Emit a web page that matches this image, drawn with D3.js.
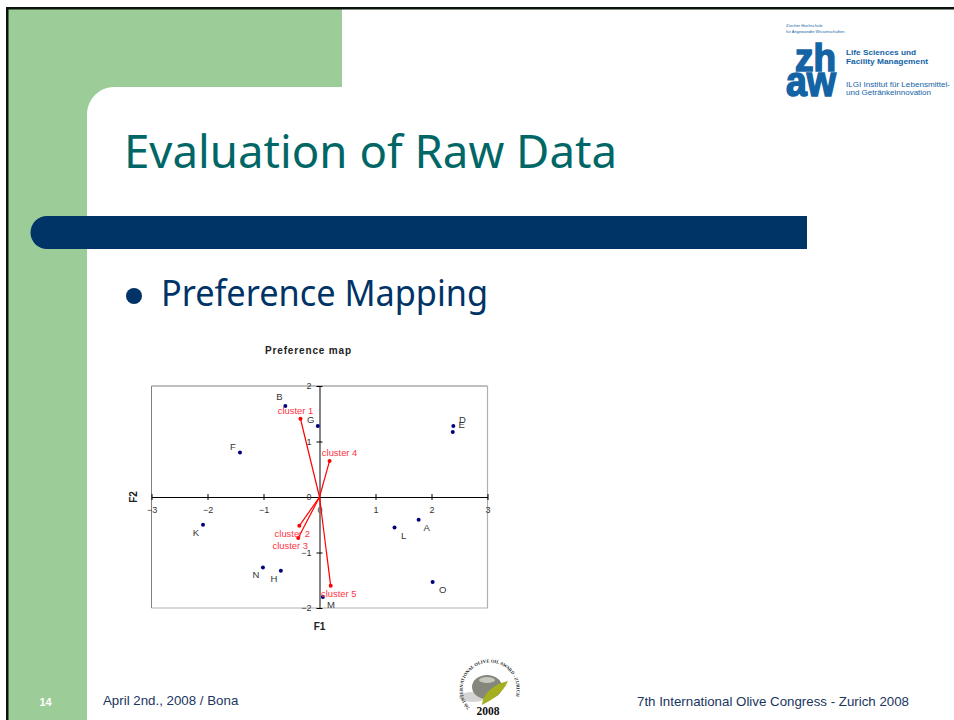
<!DOCTYPE html>
<html>
<head>
<meta charset="utf-8">
<script src="https://cdn.jsdelivr.net/npm/d3@7"></script>
<style>
html, body { margin: 0; padding: 0; background: #fff; overflow: hidden; }
svg { display: block; }
text { font-family: "Liberation Sans", Arial, sans-serif; }
text.slide { font-family: "Noto Sans", Tahoma, sans-serif; }
text.serif { font-family: "Liberation Serif", serif; }
</style>
</head>
<body>
<div id="graf"></div>
<script>
// Preference map data
const productNames = ['A', 'B', 'D', 'E', 'F', 'G', 'H', 'K', 'L', 'M', 'N', 'O']
const productF1 = [1.77, -0.61, 2.39, 2.38, -1.42, -0.03, -0.69, -2.08, 1.34, 0.06, -1.01, 2.02]
const productF2 = [-0.41, 1.64, 1.28, 1.17, 0.80, 1.28, -1.33, -0.50, -0.55, -1.80, -1.27, -1.53]

const clusterNames = ['cluster 1', 'cluster 2', 'cluster 3', 'cluster 4', 'cluster 5']
const clusterF1 = [-0.34, -0.36, -0.38, 0.18, 0.20]
const clusterF2 = [1.41, -0.52, -0.74, 0.65, -1.60]

const xTicks = [-3, -2, -1, 0, 1, 2, 3]
const yTicks = [-2, -1, 0, 1, 2]

const ancho_total = 954
const alto_total = 720
const verde = '#9ccc97'
const azul = '#003366'

const svg = d3.select('#graf').append('svg')
  .attr('width', ancho_total)
  .attr('height', alto_total)

// Fondo de la diapositiva
const bg = svg.append('g').attr('class', 'fondo')
bg.append('rect').attr('x', 8).attr('y', 9).attr('width', 334).attr('height', 78).attr('fill', verde)
bg.append('rect').attr('x', 8).attr('y', 9).attr('width', 79).attr('height', 711).attr('fill', verde)
bg.append('rect').attr('x', 87).attr('y', 87).attr('width', 27).attr('height', 27).attr('fill', verde)
bg.append('path').attr('d', 'M87,160 V114 A27,27 0 0 1 114,87 H160 V160 Z').attr('fill', '#fff')
bg.append('rect').attr('x', 6).attr('y', 7).attr('width', 948).attr('height', 2.5).attr('fill', '#0a140a')
bg.append('rect').attr('x', 6).attr('y', 7).attr('width', 2.5).attr('height', 713).attr('fill', '#0a140a')
bg.append('path')
  .attr('d', 'M807,216 H47 A16.5,16.5 0 0 0 47,249 H807 Z')
  .attr('fill', azul)

svg.append('text').attr('class', 'slide')
  .attr('x', 124).attr('y', 168)
  .attr('font-size', 46).attr('fill', '#006666')
  .attr('textLength', 493).attr('lengthAdjust', 'spacingAndGlyphs')
  .text('Evaluation of Raw Data')
svg.append('circle').attr('cx', 134).attr('cy', 296).attr('r', 8).attr('fill', azul)
svg.append('text').attr('class', 'slide')
  .attr('x', 161).attr('y', 306)
  .attr('font-size', 37).attr('fill', azul)
  .attr('textLength', 327).attr('lengthAdjust', 'spacingAndGlyphs')
  .text('Preference Mapping')

// Pie de pagina
const pie = svg.append('g').attr('font-size', 13.3).attr('fill', '#1a3560')
pie.append('text').attr('x', 45.5).attr('y', 706).attr('text-anchor', 'middle')
  .attr('font-size', 11).attr('font-weight', 'bold').attr('fill', '#fff').text('14')
pie.append('text').attr('x', 103).attr('y', 705).text('April 2nd., 2008 / Bona')
pie.append('text').attr('x', 909).attr('y', 706).attr('text-anchor', 'end').text('7th International Olive Congress - Zurich 2008')

// Logo zhaw
const logo = svg.append('g').attr('fill', '#1464a5')
logo.append('text').attr('x', 786).attr('y', 27).attr('font-size', 4.1).text('Zürcher Hochschule')
logo.append('text').attr('x', 786).attr('y', 32.5).attr('font-size', 4.1).text('für Angewandte Wissenschaften')
logo.append('text').attr('x', 795).attr('y', 71).attr('font-size', 39).attr('font-weight', 'bold')
  .attr('stroke', '#1464a5').attr('stroke-width', 1.6)
  .attr('textLength', 41).attr('lengthAdjust', 'spacingAndGlyphs').text('zh')
logo.append('text').attr('x', 786).attr('y', 96).attr('font-size', 42).attr('font-weight', 'bold')
  .attr('stroke', '#1464a5').attr('stroke-width', 1.6)
  .attr('textLength', 50).attr('lengthAdjust', 'spacingAndGlyphs').text('aw')
logo.append('text').attr('x', 846).attr('y', 55).attr('font-size', 8).attr('font-weight', 'bold')
  .attr('textLength', 70).attr('lengthAdjust', 'spacingAndGlyphs').text('Life Sciences und')
logo.append('text').attr('x', 846).attr('y', 63.5).attr('font-size', 8).attr('font-weight', 'bold')
  .attr('textLength', 82).attr('lengthAdjust', 'spacingAndGlyphs').text('Facility Management')
logo.append('text').attr('x', 846).attr('y', 87).attr('font-size', 8)
  .attr('textLength', 104).attr('lengthAdjust', 'spacingAndGlyphs').text('ILGI Institut für Lebensmittel-')
logo.append('text').attr('x', 846).attr('y', 95).attr('font-size', 8)
  .attr('textLength', 85).attr('lengthAdjust', 'spacingAndGlyphs').text('und Getränkeinnovation')

// Sello del premio
const sello = svg.append('g').attr('transform', 'translate(487, 687)')
sello.append('ellipse').attr('cx', -14).attr('cy', 10).attr('rx', 14).attr('ry', 5).attr('fill', '#d4d4d4')
sello.append('ellipse').attr('cx', 0).attr('cy', 0).attr('rx', 15).attr('ry', 12).attr('fill', '#85867c')
sello.append('ellipse').attr('cx', 0).attr('cy', -7).attr('rx', 8).attr('ry', 3).attr('fill', '#c6c7bd')
sello.append('path').attr('d', 'M-5,18 C-4,6 7,-3 21,-6 C16,6 6,12 -5,18 Z').attr('fill', '#a5b020')
sello.append('path').attr('id', 'arco').attr('fill', 'none').attr('d', 'M-17,21 A27,27 0 1 1 24,19')
sello.append('text').attr('class', 'serif').attr('font-size', 4.6).attr('font-weight', 'bold').attr('fill', '#222')
  .append('textPath').attr('href', '#arco').text('7th INTERNATIONAL OLIVE OIL AWARD - ZURICH')
sello.append('text').attr('class', 'serif').attr('x', 1).attr('y', 28).attr('text-anchor', 'middle')
  .attr('font-size', 11.5).attr('font-weight', 'bold').attr('fill', '#111').text('2008')

// Grafica
const margins = { top: 386, left: 151.5, right: 466.5, bottom: 112 }
const ancho = ancho_total - margins.left - margins.right
const alto = alto_total - margins.top - margins.bottom

svg.append('text')
  .attr('x', 308.5).attr('y', 354).attr('text-anchor', 'middle')
  .attr('font-size', 10).attr('font-weight', 'bold').attr('letter-spacing', 0.85).attr('fill', '#222')
  .text('Preference map')

const g = svg.append('g').attr('transform', `translate(${margins.left}, ${margins.top})`)

const x = d3.scaleLinear().domain([-3, 3]).range([0, ancho])
const y = d3.scaleLinear().domain([-2, 2]).range([alto, 0])

// Marco
g.append('path').attr('d', `M0,${alto} V0 H${ancho}`).attr('fill', 'none').attr('stroke', '#808080')
g.append('path').attr('d', `M${ancho},0 V${alto} H0`).attr('fill', 'none').attr('stroke', '#b0b0b0').attr('stroke-width', 1.2)

// Ejes
const xAxis = g.append('g')
  .attr('transform', `translate(0, ${y(0)})`)
  .call(d3.axisBottom(x).tickValues(xTicks).tickFormat(d3.format('d')).tickSizeInner(0).tickSizeOuter(0).tickPadding(10))
xAxis.select('.domain').attr('stroke', '#000').attr('stroke-width', 1.2)
xAxis.selectAll('.tick line').attr('y1', -3).attr('y2', 3).attr('stroke', '#000')
xAxis.selectAll('.tick text').attr('font-size', 9).attr('fill', '#333')

const yAxis = g.append('g')
  .attr('transform', `translate(${x(0)}, 0)`)
  .call(d3.axisLeft(y).tickValues(yTicks).tickFormat(d3.format('d')).tickSizeInner(0).tickSizeOuter(0).tickPadding(8))
yAxis.select('.domain').attr('stroke', '#777').attr('stroke-width', 1.8)
yAxis.selectAll('.tick line').attr('x1', -3).attr('x2', 3).attr('stroke', '#000')
yAxis.selectAll('.tick text').attr('font-size', 9).attr('fill', '#333')

g.append('text')
  .attr('x', x(0)).attr('y', alto + 22).attr('text-anchor', 'middle')
  .attr('font-size', 10).attr('font-weight', 'bold').attr('fill', '#222').text('F1')
g.append('text')
  .attr('transform', `translate(${-15}, ${y(0)}) rotate(-90)`).attr('text-anchor', 'middle')
  .attr('font-size', 10).attr('font-weight', 'bold').attr('fill', '#222').text('F2')

// Productos
const productos = productNames.map((d, i) => ({ name: d, f1: productF1[i], f2: productF2[i] }))
const clusters = clusterNames.map((d, i) => ({ name: d, f1: clusterF1[i], f2: clusterF2[i] }))

g.selectAll('.producto').data(productos).enter().append('circle')
  .attr('class', 'producto')
  .attr('cx', d => x(d.f1)).attr('cy', d => y(d.f2)).attr('r', 2)
  .attr('fill', '#000080')

// corrimiento de cada etiqueta respecto a su punto
const offsetsProducto = {
  A: [8, 11], B: [-6, -6], D: [9, -3], E: [9, -4], F: [-7, -3], G: [-7, -3],
  H: [-7, 11], K: [-7, 11], L: [9, 11], M: [8, 11], N: [-7, 11], O: [10, 11]
}
g.selectAll('.etiqueta').data(productos).enter().append('text')
  .attr('class', 'etiqueta')
  .attr('x', d => x(d.f1) + offsetsProducto[d.name][0])
  .attr('y', d => y(d.f2) + offsetsProducto[d.name][1])
  .attr('text-anchor', 'middle').attr('font-size', 9.5).attr('fill', '#333')
  .text(d => d.name)

// Vectores de los clusters
g.selectAll('.vector').data(clusters).enter().append('line')
  .attr('class', 'vector')
  .attr('x1', x(0)).attr('y1', y(0))
  .attr('x2', d => x(d.f1)).attr('y2', d => y(d.f2))
  .attr('stroke', '#ff0000').attr('stroke-width', 1.2)
g.selectAll('.punta').data(clusters).enter().append('circle')
  .attr('class', 'punta')
  .attr('cx', d => x(d.f1)).attr('cy', d => y(d.f2)).attr('r', 2)
  .attr('fill', '#ff0000')

const offsetsCluster = {
  'cluster 1': [-5, -5], 'cluster 2': [-7, 11.5], 'cluster 3': [-8, 11],
  'cluster 4': [10, -5], 'cluster 5': [8, 11]
}
g.selectAll('.nombre').data(clusters).enter().append('text')
  .attr('class', 'nombre')
  .attr('x', d => x(d.f1) + offsetsCluster[d.name][0])
  .attr('y', d => y(d.f2) + offsetsCluster[d.name][1])
  .attr('text-anchor', 'middle').attr('font-size', 9.4).attr('fill', '#ff3344')
  .text(d => d.name)
</script>
</body>
</html>
